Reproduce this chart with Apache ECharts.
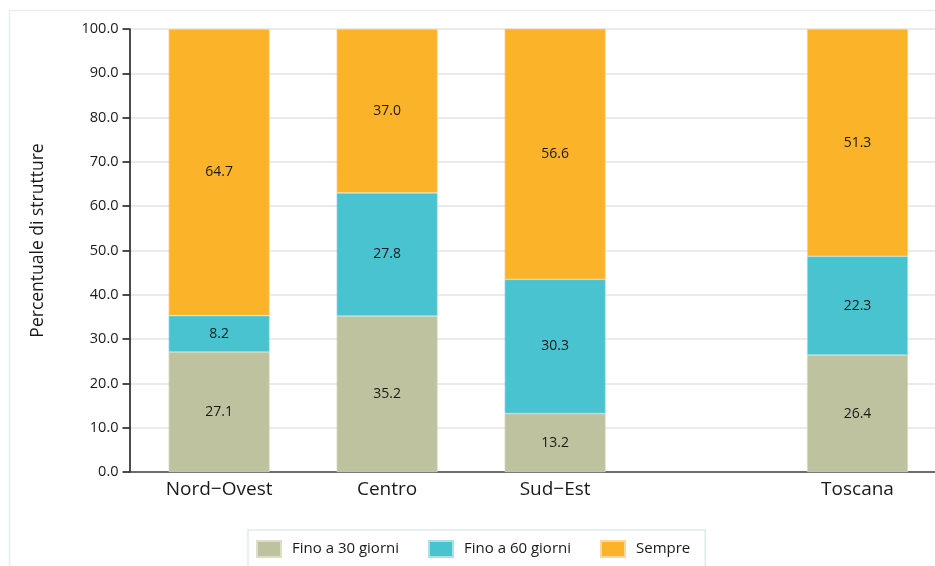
<!DOCTYPE html>
<html>
<head>
<meta charset="utf-8">
<script src="https://cdn.jsdelivr.net/npm/echarts@6/dist/echarts.min.js"></script>
<style>
html,body{margin:0;padding:0;background:#fff;}
#chart{width:935px;height:566px;}
</style>
</head>
<body>
<div id="chart"></div>
<script>
const categories = ['Nord\u2212Ovest', 'Centro', 'Sud\u2212Est', 'Toscana'];
// x position of each group on the original (uneven) axis
const positions = [1, 2, 3, 4.8];
const fino30 = [27.1, 35.2, 13.2, 26.4];
const fino60 = [8.2, 27.8, 30.3, 22.3];
const sempre = [64.7, 37.0, 56.6, 51.3];
const seriesNames = ['Fino a 30 giorni', 'Fino a 60 giorni', 'Sempre'];
const yTicks = [0, 10, 20, 30, 40, 50, 60, 70, 80, 90, 100];

// fine category slots so the uneven positions can sit on a category axis
const SLOTS_PER_UNIT = 15;
const AXIS_START = 7 / 15;   // x value at the y axis
const N_SLOTS = 73;
const slotOf = p => Math.round((p - AXIS_START) * SLOTS_PER_UNIT);
const axisData = Array.from({length: N_SLOTS}, (_, i) => '_s' + i);
positions.forEach((p, k) => { axisData[slotOf(p)] = categories[k]; });

const FONT = 'Open Sans';
const colors = ['#bfc29e', '#4ac3d0', '#fbb32a'];
const borders = ['#dcdec8', '#a8e2e8', '#fdd89a'];

const chart = echarts.init(document.getElementById('chart'), null, {renderer: 'canvas'});
const mk = (name, vals, color, border) => ({
  name: name,
  type: 'bar',
  stack: 'total',
  data: vals.map((v, i) => [slotOf(positions[i]), v]),
  barWidth: 101,
  itemStyle: {color: color, borderColor: border, borderWidth: 0.6},
  label: {
    show: true, position: 'inside', color: '#1a1a1a',
    fontFamily: FONT, fontSize: 14,
    formatter: p => p.value[1].toFixed(1)
  },
  emphasis: {disabled: true}
});

chart.setOption({
  animation: false,
  textStyle: {fontFamily: FONT},
  graphic: [{
    type: 'rect', left: 7, top: 8, z: -10,
    shape: {width: 1000, height: 600},
    style: {fill: 'none', stroke: '#e3eeee', lineWidth: 1.5}
  }],
  grid: {left: 129.5, width: 72 * 11.2, top: 29, bottom: 94, outerBoundsMode: 'none', containLabel: false},
  legend: {
    top: 530, left: 248,
    itemWidth: 24, itemHeight: 16, itemGap: 29,
    padding: [10, 15, 12, 8],
    borderColor: '#dfeaea', borderWidth: 1.5,
    textStyle: {fontFamily: FONT, fontSize: 15, color: '#1a1a1a', padding: [0, 0, 0, 6]},
    data: seriesNames,
    icon: 'rect'
  },
  xAxis: {
    type: 'category',
    data: axisData,
    boundaryGap: false,
    axisLine: {show: true, lineStyle: {color: '#444', width: 1.5}},
    axisTick: {show: false},
    splitLine: {show: false},
    axisLabel: {
      interval: 0,
      formatter: v => (v.indexOf('_s') === 0 ? '' : v),
      fontFamily: FONT, fontSize: 19, color: '#1a1a1a', margin: 8
    }
  },
  yAxis: {
    type: 'value', min: 0, max: 100, interval: 10,
    name: 'Percentuale di strutture',
    nameLocation: 'middle', nameGap: 82,
    nameTextStyle: {fontFamily: FONT, fontSize: 17.5, color: '#1a1a1a', padding: [0, 0, 0, 20]},
    axisLine: {show: true, lineStyle: {color: '#111', width: 1.5}},
    axisTick: {show: true, length: 7, lineStyle: {color: '#111', width: 1.5}},
    axisLabel: {
      formatter: v => v.toFixed(1), fontFamily: FONT, fontSize: 14.5, color: '#1a1a1a', margin: 11
    },
    splitLine: {show: true, lineStyle: {color: '#e4e4e4', width: 1.5}}
  },
  series: [
    mk(seriesNames[0], fino30, colors[0], borders[0]),
    mk(seriesNames[1], fino60, colors[1], borders[1]),
    mk(seriesNames[2], sempre, colors[2], borders[2])
  ]
});
</script>
</body>
</html>
